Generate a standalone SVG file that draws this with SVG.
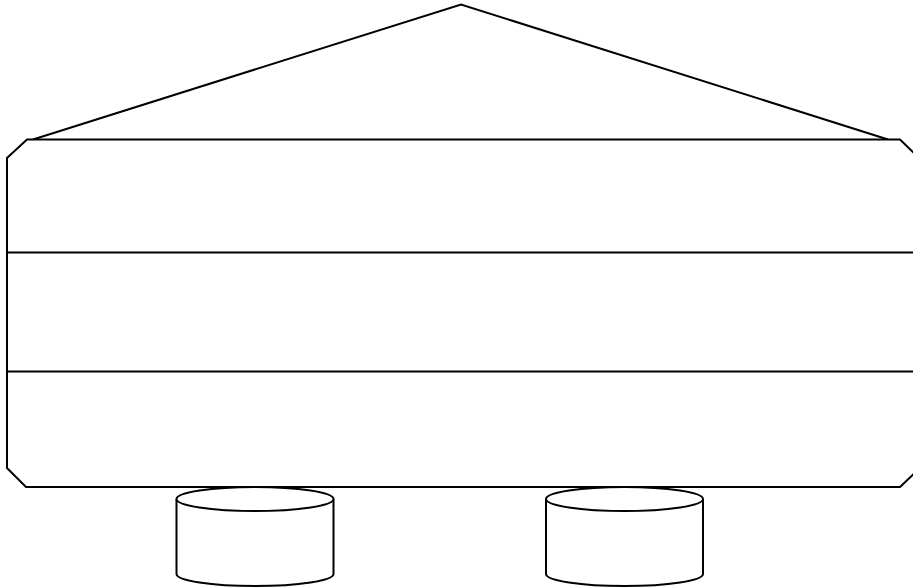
<svg xmlns="http://www.w3.org/2000/svg" width="913" height="587" viewBox="0 0 913 587">
<style>
.s{fill:#fff;stroke:#000;stroke-width:2;stroke-linejoin:miter}
.l{fill:none;stroke:#000;stroke-width:2}
</style>
<rect width="913" height="587" fill="#fff"/>
<g id="roof"><polyline class="l" points="33,139.5 461,4.5 888,139.5"/></g>
<g id="body"><path class="s" d="M27,139.5 L900,139.5 L920,159 L920,468 L900,487 L26,487 L7,468 L7,158 Z"/></g>
<g id="layers">
<line class="l" x1="7" y1="252.5" x2="913" y2="252.5"/>
<line class="l" x1="6" y1="371.5" x2="913" y2="371.5"/>
</g>
<g id="db1">
<path class="s" d="M176.5,499 L176.5,574 A78.5,12 0 0 0 333.5,574 L333.5,499"/>
<ellipse class="s" cx="255" cy="499" rx="78.5" ry="12"/>
</g>
<g id="db2">
<path class="s" d="M546,499 L546,574 A78.5,12 0 0 0 703,574 L703,499"/>
<ellipse class="s" cx="624.5" cy="499" rx="78.5" ry="12"/>
</g>
<g id="connectors"></g>
</svg>
